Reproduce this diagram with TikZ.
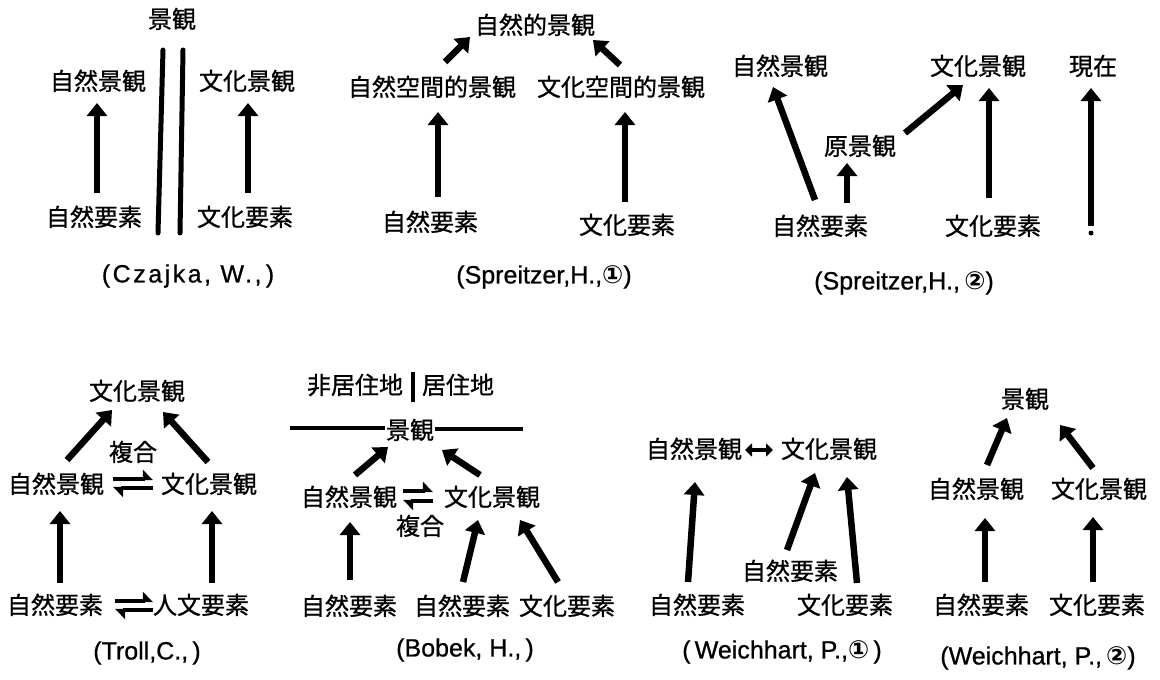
\documentclass[tikz,border=0pt]{standalone}
\usepackage{fontspec}
\setmainfont{Liberation Sans}[BoldFont={Liberation Sans},BoldFeatures={FakeBold=0.8}]
\newfontfamily\cjk{Noto Sans CJK JP}[BoldFont={Noto Sans CJK JP},BoldFeatures={FakeBold=0.9}]
\newfontfamily\sym{DejaVu Sans}
\usetikzlibrary{arrows.meta}
\begin{document}
\begin{tikzpicture}[x=1pt,y=-1pt,
 lbl/.style={inner sep=0pt,text height=20pt,text depth=2pt,font=\cjk\bfseries\fontsize{24}{26}\selectfont},
 captxt/.style={inner sep=0pt,font=\bfseries\fontsize{25}{28}\selectfont},
 arr/.style={line width=6.5pt,-{Triangle[length=13pt,width=20pt]}},
 harp/.style={line width=4pt,-{Triangle[harpoon,length=9pt,width=18pt]}},
 wall/.style={line width=5pt,line cap=round},
 rulel/.style={line width=3.5pt},
]
\useasboundingbox (0,0) rectangle (1160,680);

% ---------- Czajka ----------
\node[lbl] (cz_top) at (172,19) {景観};
\node[lbl] (cz_nl) at (98,81) {自然景観};
\node[lbl] (cz_cl) at (247,81) {文化景観};
\node[lbl] (cz_ne) at (94,217) {自然要素};
\node[lbl] (cz_ce) at (245,217) {文化要素};
\node[captxt] (cz_cap) at (188,276) {\addfontfeature{LetterSpace=10}(Czajka, W.,\,)};
\draw[wall] (163,50) -- (158,233);
\draw[wall] (183,50) -- (180,233);
\draw[arr] ([shift={(3,-24)}]cz_ne.center) -- ([shift={(-1,22)}]cz_nl.center);
\draw[arr] ([shift={(3,-24)}]cz_ce.center) -- ([shift={(1,22)}]cz_cl.center);

% ---------- Spreitzer 1 ----------
\node[lbl] (sp1_top) at (535,25) {自然的景観};
\node[lbl] (sp1_nl) at (432,87) {自然空間的景観};
\node[lbl] (sp1_cl) at (621,87) {文化空間的景観};
\node[lbl] (sp1_ne) at (430,222) {自然要素};
\node[lbl] (sp1_ce) at (627,225) {文化要素};
\node[captxt] (sp1_cap) at (544,277) {(Spreitzer,H.,{\sym ①})};
\draw[arr] ([shift={(13,-25)}]sp1_nl.center) -- ([shift={(-65,12)}]sp1_top.center);
\draw[arr] ([shift={(-1,-22)}]sp1_cl.center) -- ([shift={(58,15)}]sp1_top.center);
\draw[arr] ([shift={(8,-25)}]sp1_ne.center) -- ([shift={(6,25)}]sp1_nl.center);
\draw[arr] ([shift={(-2,-23)}]sp1_ce.center) -- ([shift={(4,25)}]sp1_cl.center);

% ---------- Spreitzer 2 ----------
\node[lbl] (sp2_nl) at (780,66) {自然景観};
\node[lbl] (sp2_cl) at (978,66) {文化景観};
\node[lbl] (sp2_now) at (1093,66) {現在};
\node[lbl] (sp2_orig) at (860,146) {原景観};
\node[lbl] (sp2_ne) at (820,226) {自然要素};
\node[lbl] (sp2_ce) at (993,226) {文化要素};
\node[captxt] (sp2_cap) at (904,283) {(Spreitzer,H.,\,{\sym ②})};
\coordinate (sp2_base) at (1091,226);
\draw[arr] ([shift={(-5,-26)}]sp2_ne.center) -- ([shift={(-7,21)}]sp2_nl.center);
\draw[arr] ([shift={(27,-23)}]sp2_ne.center) -- ([shift={(-13,17)}]sp2_orig.center);
\draw[arr] ([shift={(45,-13)}]sp2_orig.center) -- ([shift={(-15,19)}]sp2_cl.center);
\draw[arr] ([shift={(-4,-28)}]sp2_ce.center) -- ([shift={(11,22)}]sp2_cl.center);
\draw[arr] (sp2_base) -- ([shift={(-2,22)}]sp2_now.center);
\fill (1091,233) circle (2.5pt);

% ---------- Troll ----------
\node[lbl] (tr_top) at (137,391) {文化景観};
\node[lbl] (tr_fu) at (133,452) {複合};
\node[lbl] (tr_nl) at (56,484) {自然景観};
\node[lbl] (tr_cl) at (209,484) {文化景観};
\node[lbl] (tr_ne) at (55,605) {自然要素};
\node[lbl] (tr_he) at (201,605) {人文要素};
\node[captxt] (tr_cap) at (147,653) {(Troll,C.,\,)};
\draw[arr] ([shift={(11,-24)}]tr_nl.center) -- ([shift={(-25,19)}]tr_top.center);
\draw[arr] ([shift={(-1,-22)}]tr_cl.center) -- ([shift={(26,21)}]tr_top.center);
\draw[arr] ([shift={(5,-22)}]tr_ne.center) -- ([shift={(4,27)}]tr_nl.center);
\draw[arr] ([shift={(11,-22)}]tr_he.center) -- ([shift={(3,27)}]tr_cl.center);
\draw[harp] ([shift={(57,-5)}]tr_nl.center) -- ([shift={(-56,-5)}]tr_cl.center);
\draw[harp] ([shift={(-56,4)}]tr_cl.center) -- ([shift={(57,4)}]tr_nl.center);
\draw[harp] ([shift={(60,-4)}]tr_ne.center) -- ([shift={(-48,-4)}]tr_he.center);
\draw[harp] ([shift={(-48,5)}]tr_he.center) -- ([shift={(60,5)}]tr_ne.center);

% ---------- Bobek ----------
\node[lbl] (bo_non) at (355,385) {非居住地};
\node[lbl] (bo_res) at (458,385) {居住地};
\node[lbl] (bo_top) at (410,430) {景観};
\node[lbl] (bo_nl) at (349,497) {自然景観};
\node[lbl] (bo_cl) at (492,497) {文化景観};
\node[lbl] (bo_fu) at (420,526) {複合};
\node[lbl] (bo_ne1) at (349,606) {自然要素};
\node[lbl] (bo_ne2) at (462,606) {自然要素};
\node[lbl] (bo_ce) at (567,606) {文化要素};
\node[captxt] (bo_cap) at (465,650) {(Bobek, H.,\,)};
\draw[line width=4.5pt] (413,372) -- (413,402);
\draw[rulel] (290,428) -- (385,428);
\draw[rulel] (435,429) -- (523,429);
\draw[arr] ([shift={(6,-22)}]bo_nl.center) -- ([shift={(-22,17)}]bo_top.center);
\draw[arr] ([shift={(-12,-22)}]bo_cl.center) -- ([shift={(32,20)}]bo_top.center);
\draw[arr] ([shift={(1,-26)}]bo_ne1.center) -- ([shift={(1,25)}]bo_nl.center);
\draw[arr] ([shift={(1,-24)}]bo_ne2.center) -- ([shift={(-14,23)}]bo_cl.center);
\draw[arr] ([shift={(-9,-24)}]bo_ce.center) -- ([shift={(28,23)}]bo_cl.center);
\draw[harp] ([shift={(54,-6)}]bo_nl.center) -- ([shift={(-59,-6)}]bo_cl.center);
\draw[harp] ([shift={(-59,4)}]bo_cl.center) -- ([shift={(54,4)}]bo_nl.center);

% ---------- Weichhart 1 ----------
\node[lbl] (w1_nl) at (694,449) {自然景観};
\node[lbl] (w1_cl) at (829,449) {文化景観};
\node[lbl] (w1_nem) at (790,571) {自然要素};
\node[lbl] (w1_ne) at (697,605) {自然要素};
\node[lbl] (w1_ce) at (845,605) {文化要素};
\node[captxt] (w1_cap) at (782,652) {(\,Weichhart, P.,{\sym ①}\,)};
\draw[line width=4pt,{Triangle[length=7pt,width=13pt]}-{Triangle[length=7pt,width=13pt]}] ([shift={(51,1)}]w1_nl.center) -- ([shift={(-56,1)}]w1_cl.center);
\draw[arr] ([shift={(-9,-23)}]w1_ne.center) -- ([shift={(1,33)}]w1_nl.center);
\draw[arr] ([shift={(-3,-21)}]w1_nem.center) -- ([shift={(-14,24)}]w1_cl.center);
\draw[arr] ([shift={(12,-22)}]w1_ce.center) -- ([shift={(18,28)}]w1_cl.center);

% ---------- Weichhart 2 ----------
\node[lbl] (w2_top) at (1025,399) {景観};
\node[lbl] (w2_nl) at (976,489) {自然景観};
\node[lbl] (w2_cl) at (1099,489) {文化景観};
\node[lbl] (w2_ne) at (981,605) {自然要素};
\node[lbl] (w2_ce) at (1097,605) {文化要素};
\node[captxt] (w2_cap) at (1038,658) {(Weichhart, P.,\,{\sym ②})};
\draw[arr] ([shift={(11,-24)}]w2_nl.center) -- ([shift={(-18,19)}]w2_top.center);
\draw[arr] ([shift={(-6,-21)}]w2_cl.center) -- ([shift={(35,26)}]w2_top.center);
\draw[arr] ([shift={(4,-23)}]w2_ne.center) -- ([shift={(9,29)}]w2_nl.center);
\draw[arr] ([shift={(-4,-23)}]w2_ce.center) -- ([shift={(-6,28)}]w2_cl.center);
\end{tikzpicture}
\end{document}
